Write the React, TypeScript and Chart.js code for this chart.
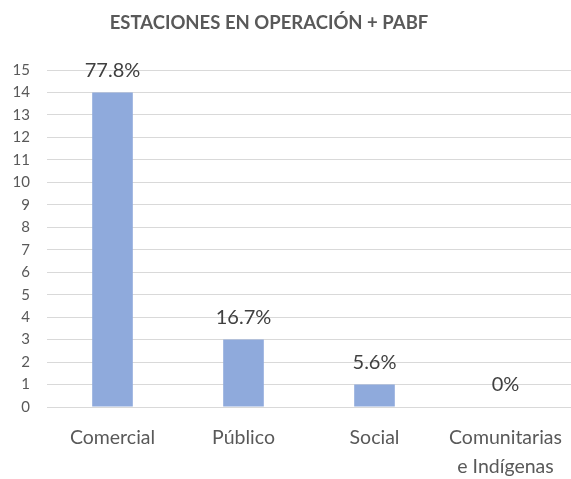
import React, { useEffect, useRef } from "react";
import { Chart, registerables } from "chart.js";

Chart.register(...registerables);

const categories: (string | string[])[] = ["Comercial", "Público", "Social", ["Comunitarias", "e Indígenas"]];
const values: number[] = [14, 3, 1, 0];
const percentLabels: string[] = ["77.8%", "16.7%", "5.6%", "0%"];
const titleText = "ESTACIONES EN OPERACIÓN + PABF";
const FONT = "Lato, 'Open Sans', sans-serif";

const dataLabelPlugin = {
  id: "dataLabels",
  afterDatasetsDraw(chart: any) {
    const ctx = chart.ctx;
    const meta = chart.getDatasetMeta(0);
    ctx.save();
    ctx.font = `20px ${FONT}`;
    ctx.fillStyle = "#404040";
    ctx.textAlign = "center";
    ctx.textBaseline = "middle";
    meta.data.forEach((bar: any, i: number) => {
      ctx.fillText(percentLabels[i], bar.x, bar.y - 22);
    });
    ctx.restore();
  },
};

const titlePlugin = {
  id: "customTitle",
  afterDraw(chart: any) {
    const ctx = chart.ctx;
    ctx.save();
    ctx.font = `bold 18.5px ${FONT}`;
    ctx.fillStyle = "#595959";
    ctx.textAlign = "center";
    ctx.textBaseline = "middle";
    ctx.fillText(titleText, 269, 23);
    ctx.restore();
  },
};

export default function App() {
  const ref = useRef<HTMLCanvasElement>(null);
  useEffect(() => {
    document.body.style.margin = "0";
    const chart = new Chart(ref.current!, {
      type: "bar",
      data: {
        labels: categories,
        datasets: [
          {
            data: values,
            backgroundColor: "#8FAADC",
            categoryPercentage: 1,
            barPercentage: 0.31,
          },
        ],
      },
      options: {
        responsive: false,
        animation: false,
        layout: { padding: { left: 0, right: 0, top: 70, bottom: 0 } },
        plugins: {
          legend: { display: false },
          tooltip: { enabled: false },
          title: { display: false },
        },
        scales: {
          x: {
            grid: { display: false, drawTicks: false },
            border: { display: false },
            ticks: {
              color: "#595959",
              font: { family: FONT, size: 19.5, lineHeight: 1.45 },
              padding: 17,
              maxRotation: 0,
              autoSkip: false,
            },
            afterFit(scale: any) {
              scale.height = 72;
              scale.paddingLeft = 0;
              scale.paddingRight = 0;
            },
          },
          y: {
            min: 0,
            max: 15,
            grid: { color: "#D9D9D9", lineWidth: 1, drawTicks: false },
            border: { display: false },
            ticks: {
              stepSize: 1,
              color: "#595959",
              font: { family: FONT, size: 15 },
              padding: 17,
            },
            afterFit(scale: any) {
              scale.width = 47;
            },
          },
        },
      },
      plugins: [dataLabelPlugin, titlePlugin],
    });
    return () => chart.destroy();
  }, []);
  return (
    <div style={{ width: 571, height: 479 }}>
      <canvas ref={ref} width={571} height={479} />
    </div>
  );
}
